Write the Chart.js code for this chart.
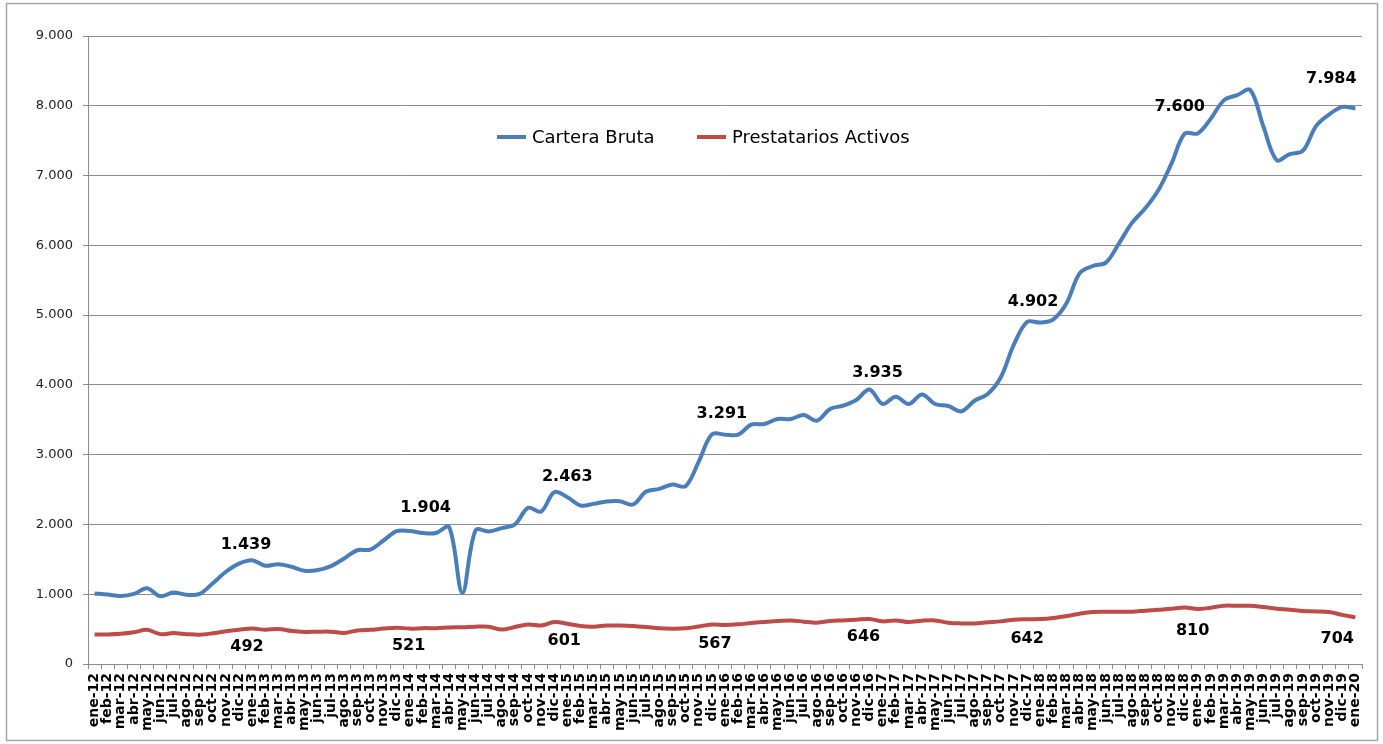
<!DOCTYPE html>
<html><head><meta charset="utf-8">
<script src="https://cdn.jsdelivr.net/npm/chart.js@4/dist/chart.umd.min.js"></script>
<style>html,body{margin:0;padding:0;background:#fff;}canvas{display:block}</style>
</head><body>
<canvas id="c" width="1383" height="744"></canvas>
<script>
const categories = [
 'ene-12','feb-12','mar-12','abr-12','may-12','jun-12','jul-12','ago-12','sep-12','oct-12','nov-12','dic-12',
 'ene-13','feb-13','mar-13','abr-13','may-13','jun-13','jul-13','ago-13','sep-13','oct-13','nov-13','dic-13',
 'ene-14','feb-14','mar-14','abr-14','may-14','jun-14','jul-14','ago-14','sep-14','oct-14','nov-14','dic-14',
 'ene-15','feb-15','mar-15','abr-15','may-15','jun-15','jul-15','ago-15','sep-15','oct-15','nov-15','dic-15',
 'ene-16','feb-16','mar-16','abr-16','may-16','jun-16','jul-16','ago-16','sep-16','oct-16','nov-16','dic-16',
 'ene-17','feb-17','mar-17','abr-17','may-17','jun-17','jul-17','ago-17','sep-17','oct-17','nov-17','dic-17',
 'ene-18','feb-18','mar-18','abr-18','may-18','jun-18','jul-18','ago-18','sep-18','oct-18','nov-18','dic-18',
 'ene-19','feb-19','mar-19','abr-19','may-19','jun-19','jul-19','ago-19','sep-19','oct-19','nov-19','dic-19',
 'ene-20'
];
const carteraBruta = [
 1010, 995, 975,1005,1085, 970,1024, 992,1005,1156,1322,1439,
 1488,1408,1431,1393,1336,1346,1403,1512,1630,1640,1770,1904,
 1905,1877,1877,1962,1020,1914,1900,1948,2000,2238,2186,2463,
 2390,2271,2295,2329,2333,2286,2471,2510,2571,2548,2900,3291,
 3286,3286,3430,3439,3511,3511,3568,3487,3654,3702,3783,3935,
 3726,3831,3726,3864,3726,3697,3621,3773,3869,4110,4580,4902,
 4893,4940,5169,5599,5704,5752,6029,6325,6530,6792,7174,7600,
 7604,7819,8081,8153,8224,7699,7222,7308,7356,7709,7876,7984,
 7962
];
const prestatariosActivos = [
 424,424,433,455,490,428,443,428,420,440,470,492,
 508,492,503,473,460,463,463,445,481,490,508,521,
 507,514,514,524,526,535,535,494,530,566,552,601,
 578,545,535,552,552,545,530,511,506,511,538,567,
 560,568,587,602,615,625,606,592,615,625,635,646,
 611,625,601,621,625,592,582,582,597,611,635,642,
 644,659,687,721,745,749,749,749,764,778,792,810,
 788,807,835,835,835,816,792,778,759,754,745,704,
 668
];
const yTicks = [0,1000,2000,3000,4000,5000,6000,7000,8000,9000];
const seriesNames = ['Cartera Bruta','Prestatarios Activos'];
const labeledIndex = [11,23,35,47,59,71,83,95];

const fmt = v => String(Math.round(v)).replace(/\B(?=(\d{3})+(?!\d))/g, '.');
const GRID = '#8c8c8c';

const labelStyle = {
  0: { dx:[7,29,13,10,8,6,-5,-11], dy:[-19,-23,-15,-21,-17,-20,-27,-28] },
  1: { dx:[8,12,10,3,-6,0,8,-5],   dy:[17,18,19,19,18,20,23,24] }
};

const extras = {
  id:'extras',
  beforeDraw(chart){
    const ctx = chart.ctx;
    ctx.save();
    ctx.fillStyle = '#fff';
    ctx.fillRect(0,0,chart.width,chart.height);
    ctx.strokeStyle = '#a6a6a6';
    ctx.lineWidth = 1.5;
    ctx.strokeRect(6.5,3.5,1371,737);
    ctx.restore();
  },
  afterDatasetsDraw(chart){
    const ctx = chart.ctx;
    ctx.save();
    ctx.font = 'bold 16px "DejaVu Sans"';
    ctx.fillStyle = '#000';
    ctx.textAlign = 'center';
    ctx.textBaseline = 'middle';
    chart.data.datasets.forEach((ds, d) => {
      const meta = chart.getDatasetMeta(d);
      labeledIndex.forEach((idx, k) => {
        const pt = meta.data[idx];
        ctx.fillText(fmt(ds.data[idx]), pt.x + labelStyle[d].dx[k], pt.y + labelStyle[d].dy[k]);
      });
    });
    // legend
    const items = [{x:497, w:29}, {x:697, w:29}];
    ctx.font = '18px "DejaVu Sans"';
    ctx.textAlign = 'left';
    chart.data.datasets.forEach((ds, d) => {
      const it = items[d];
      ctx.strokeStyle = ds.borderColor;
      ctx.lineWidth = 4;
      ctx.beginPath();
      ctx.moveTo(it.x, 137); ctx.lineTo(it.x + it.w, 137);
      ctx.stroke();
      ctx.fillStyle = '#000';
      ctx.fillText(ds.label, it.x + it.w + 6, 138);
    });
    ctx.restore();
  }
};

new Chart(document.getElementById('c'), {
  type:'line',
  data:{
    labels: categories,
    datasets:[
      { label: seriesNames[0], data: carteraBruta, borderColor:'#4a7ebb', backgroundColor:'#4a7ebb',
        borderWidth:4, pointRadius:0, tension:0.35, fill:false },
      { label: seriesNames[1], data: prestatariosActivos, borderColor:'#be4b48', backgroundColor:'#be4b48',
        borderWidth:4, pointRadius:0, tension:0.35, fill:false }
    ]
  },
  options:{
    responsive:false, animation:false, devicePixelRatio:1,
    layout:{ padding:{ left:0, right:21, top:36, bottom:0 } },
    plugins:{ legend:{display:false}, tooltip:{enabled:false} },
    scales:{
      x:{
        offset:true,
        afterFit(s){ s.height = 80; },
        grid:{ display:true, drawOnChartArea:false, drawTicks:true, tickLength:5, offset:true, color:GRID },
        border:{ display:true, color:GRID, width:1 },
        ticks:{ autoSkip:false, maxRotation:90, minRotation:90, padding:4, color:'#000',
                font:{ family:'"DejaVu Sans"', size:14, weight:'bold' } }
      },
      y:{
        min:0, max:9000,
        afterFit(s){ s.width = 88; },
        afterBuildTicks(s){ s.ticks = yTicks.map(v => ({value:v})); },
        grid:{ color:GRID, lineWidth:1, tickLength:5, drawTicks:true },
        border:{ display:true, color:GRID, width:1 },
        ticks:{ padding:10, color:'#222', font:{ family:'"DejaVu Sans"', size:13 }, callback:v => fmt(v) }
      }
    }
  },
  plugins:[extras]
});
</script>
</body></html>
